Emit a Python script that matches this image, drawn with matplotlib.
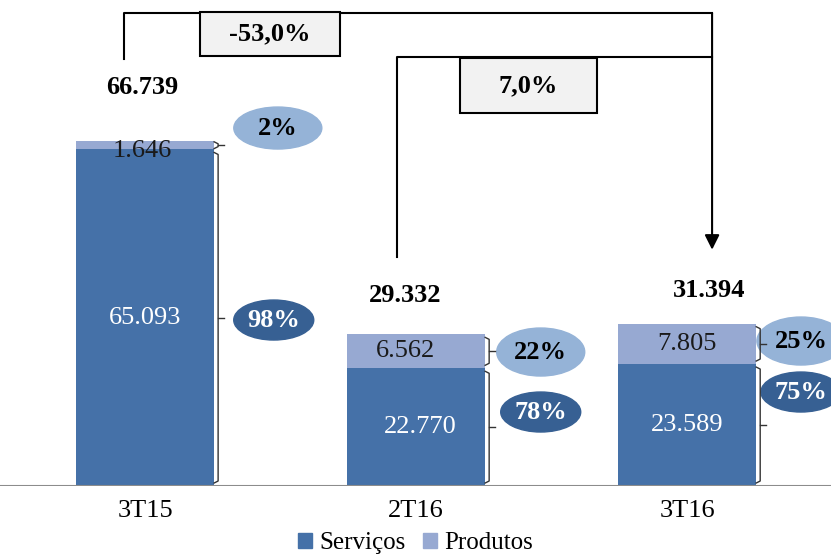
import numpy as np
import matplotlib
matplotlib.use("Agg")
import matplotlib.pyplot as plt
from matplotlib.patches import Ellipse, Rectangle, Patch

# data
periods = ["3T15", "2T16", "3T16"]
servicos = [65093, 22770, 23589]
produtos = [1646, 6562, 7805]

C_SERV = "#4571a8"
C_PROD = "#97a9d2"
C_ELL_LIGHT = "#95b3d7"
C_ELL_DARK = "#376093"
FONT = "Liberation Serif"
FS = 19


def fmt(v):
    return f"{v:,}".replace(",", ".")


def pct(v):
    return f"{v:.1f}%".replace(".", ",")


servicos = np.array(servicos)
produtos = np.array(produtos)
totals = servicos + produtos
x = np.arange(len(periods))
w = 0.51

fig = plt.figure(figsize=(8.31, 5.58), dpi=100)
ax = fig.add_axes([0, 0.129, 1, 0.871])
ax.set_xlim(-0.535, 2.531)
ax.set_ylim(0, 94000)
ax.axis("off")

# px -> data helpers (1 unit x = 271 px, 1 px y = 193.4)
PX = 1 / 271
PY = 193.4

ax.bar(x, servicos, w, color=C_SERV, zorder=2)
ax.bar(x, produtos, w, bottom=servicos, color=C_PROD, zorder=2)
ax.axhline(0, color="#8c8c8c", lw=1.5, zorder=3)

# segment labels
prod_dx = [-0.01, -0.04, 0]
prod_dy = [-6, 0, 0]
serv_dx = [0, 0.015, 0]
for i in range(len(x)):
    ax.text(x[i] + serv_dx[i], servicos[i] / 2, fmt(servicos[i]), ha="center", va="center",
            color="white", fontsize=FS, family=FONT, zorder=4)
    ax.text(x[i] + prod_dx[i], servicos[i] + produtos[i] / 2 + prod_dy[i] * PY,
            fmt(produtos[i]), ha="center", va="center", color="#1a1a1a",
            fontsize=FS, family=FONT, zorder=4)

# totals
tot_dx = [-0.01, -0.04, 0.08]
tot_dy = [53, 39, 33]
for i in range(len(x)):
    ax.text(x[i] + tot_dx[i], totals[i] + tot_dy[i] * PY, fmt(totals[i]),
            ha="center", va="center", fontsize=FS, fontweight="bold", family=FONT)


def brace(xr, y0, y1):
    gap = min(3 * PY, (y1 - y0) * 0.1)
    y0, y1 = y0 + gap, y1 - gap
    xb = xr + 4 * PX
    ym = (y0 + y1) / 2
    ax.plot([xb - 4 * PX, xb, xb, xb - 4 * PX], [y0, y0 + 2 * PY, y1 - 2 * PY, y1],
            color="#333333", lw=1, zorder=4)
    ax.plot([xb, xb + 6 * PX], [ym, ym], color="#333333", lw=1, zorder=4)


for i in range(len(x)):
    xr = x[i] + w / 2
    brace(xr, servicos[i], totals[i])
    brace(xr, 0, servicos[i])

# percentage ellipses
ell_dx = [0.49, 0.46, 0.42]
ys_px = [320, 412, 392]
yp_px = [128, 352, 341]
hp_px = [42, 48, 48]
for i in range(len(x)):
    ps = round(servicos[i] / totals[i] * 100)
    pp = round(produtos[i] / totals[i] * 100)
    yp = (486 - yp_px[i]) * PY
    ys = (486 - ys_px[i]) * PY
    xs = x[i] + ell_dx[i] - (0.015 if i == 0 else 0)
    ax.add_patch(Ellipse((x[i] + ell_dx[i], yp), 88 * PX, hp_px[i] * PY,
                         color=C_ELL_LIGHT, zorder=3))
    ax.add_patch(Ellipse((xs, ys), 80 * PX, 40 * PY, color=C_ELL_DARK, zorder=3))
    ax.text(x[i] + ell_dx[i], yp, f"{pp}%", ha="center", va="center",
            fontsize=FS, fontweight="bold", family=FONT, zorder=4)
    ax.text(xs, ys, f"{ps}%", ha="center", va="center", fontsize=FS,
            fontweight="bold", color="white", family=FONT, zorder=4)

# variation connectors
x_end = x[2] + 25 * PX
y_top1 = (486 - 13) * PY
y_top2 = (486 - 57) * PY
ax.plot([x[0] - 21 * PX, x[0] - 21 * PX, x_end], [totals[0] + 82 * PY, y_top1, y_top1],
        color="black", lw=1.5, zorder=2)
ax.plot([x[1] - 19 * PX, x[1] - 19 * PX, x_end], [totals[1] + 77 * PY, y_top2, y_top2],
        color="black", lw=1.5, zorder=2)
ax.annotate("", xy=(x_end, totals[2] + 74 * PY), xytext=(x_end, y_top1),
            arrowprops=dict(arrowstyle="-|>", color="black", lw=1.5, mutation_scale=22,
                            shrinkA=0, shrinkB=0), zorder=2)

var1 = (totals[2] / totals[0] - 1) * 100
var2 = (totals[2] / totals[1] - 1) * 100
for (xl, xr_, yt, yb, txt) in [(200, 340, 12, 56, pct(var1)), (460, 597, 58, 113, pct(var2))]:
    x0 = (xl - 145.5) * PX
    x1 = (xr_ - 145.5) * PX
    y0 = (486 - yb) * PY
    y1 = (486 - yt) * PY
    ax.add_patch(Rectangle((x0, y0), x1 - x0, y1 - y0, facecolor="#f2f2f2",
                           edgecolor="black", lw=1.5, zorder=3))
    ax.text((x0 + x1) / 2, (y0 + y1) / 2, txt, ha="center", va="center",
            fontsize=FS, fontweight="bold", family=FONT, zorder=4)

# category labels
for i in range(len(x)):
    ax.text(x[i], -25 * PY, periods[i], ha="center", va="center", fontsize=FS, family=FONT)

handles = [Patch(color=C_SERV, label="Serviços"), Patch(color=C_PROD, label="Produtos")]
fig.legend(handles=handles, loc="center", bbox_to_anchor=(0.5, 15 / 558), ncol=2,
           frameon=False, handlelength=0.55, handleheight=0.55, handletextpad=0.3,
           columnspacing=0.7, borderpad=0, prop={"family": FONT, "size": 18})

fig.savefig("out.png", dpi=100)
